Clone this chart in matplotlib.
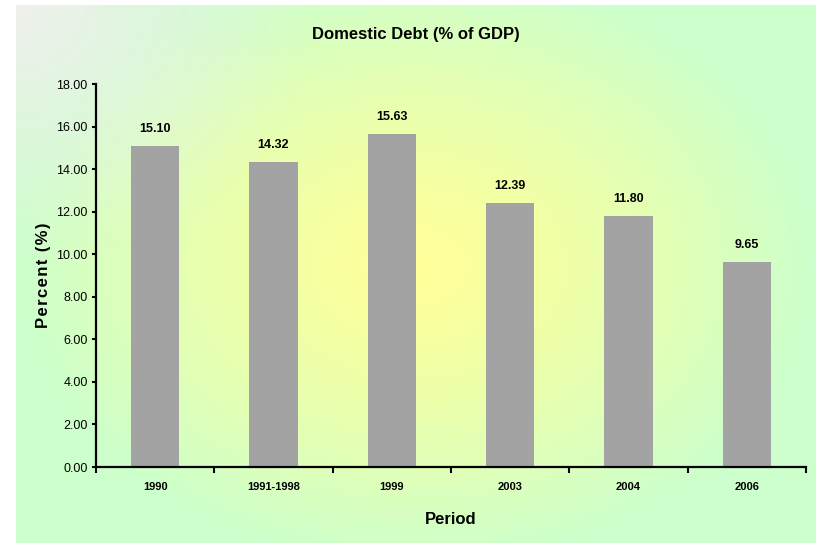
import numpy as np
import matplotlib
matplotlib.use("Agg")
import matplotlib.pyplot as plt

periods = ["1990", "1991-1998", "1999", "2003", "2004", "2006"]
debt_pct = [15.10, 14.32, 15.63, 12.39, 11.80, 9.65]
y_ticks = [0, 2, 4, 6, 8, 10, 12, 14, 16, 18]

plt.rcParams["font.family"] = ["Liberation Sans", "DejaVu Sans"]

W, H = 820, 543
fig = plt.figure(figsize=(W / 100, H / 100), dpi=100)
fig.patch.set_facecolor("white")

# gradient background (yellow centre, green edges, greyish top-left)
bg_left, bg_right, bg_top, bg_bottom = 16, 816, 5, 543
bw, bh = bg_right - bg_left, bg_bottom - bg_top
xx, yy = np.meshgrid(np.arange(bw) + bg_left, np.arange(bh) + bg_top)
yellow = np.array([1.0, 1.0, 0.6])
green = np.array([0.80, 1.0, 0.80])
grey = np.array([0.94, 0.94, 0.93])
d = np.sqrt(((xx - 415) / 400.0) ** 2 + ((yy - 265) / 300.0) ** 2)
t = np.clip(d, 0, 1)[..., None] ** 1.3
img = yellow * (1 - t) + green * t
dg = np.sqrt(((xx - bg_left) / 300.0) ** 2 + ((yy - bg_top) / 260.0) ** 2)
g = np.clip(1 - dg, 0, 1)[..., None] ** 1.1
img = img * (1 - g) + grey * g

bg_ax = fig.add_axes([bg_left / W, 1 - bg_bottom / H, bw / W, bh / H])
bg_ax.imshow(img, aspect="auto", interpolation="bilinear")
bg_ax.axis("off")

ax_l, ax_r, ax_t, ax_b = 96, 806, 84, 467
ax = fig.add_axes([ax_l / W, 1 - ax_b / H, (ax_r - ax_l) / W, (ax_b - ax_t) / H])
ax.patch.set_alpha(0)

x = np.arange(len(periods))
bars = ax.bar(x, debt_pct, width=0.41, color="#a3a3a3", zorder=2)
for xi, v in zip(x, debt_pct):
    ax.annotate(f"{v:.2f}", (xi, v), xytext=(0, 8), textcoords="offset points",
                ha="center", va="bottom", fontsize=9, fontweight="bold")

ax.set_xlim(-0.5, len(periods) - 0.5)
ax.set_ylim(0, 18)
ax.set_yticks(y_ticks)
ax.set_yticklabels([f"{v:.2f}" for v in y_ticks], fontsize=9)
ax.set_xticks(x)
ax.set_xticklabels(periods, fontsize=8, fontweight="bold")
ax.set_xticks(np.arange(len(periods) + 1) - 0.5, minor=True)
ax.tick_params(axis="x", which="major", length=0, pad=11)
ax.tick_params(axis="x", which="minor", length=4, width=1.5, direction="out")
ax.tick_params(axis="y", length=3, width=1.5, direction="out", pad=3)

for side in ["top", "right"]:
    ax.spines[side].set_visible(False)
for side in ["left", "bottom"]:
    ax.spines[side].set_linewidth(1.6)

ylab = "\u200a".join("Percent (%)")
ax.set_ylabel(ylab, fontsize=12, fontweight="bold", labelpad=4)
ax.set_xlabel("Period", fontsize=12, fontweight="bold", labelpad=14)

fig.text(416 / W, 1 - 35 / H, "Domestic Debt (% of GDP)", ha="center", va="center",
         fontsize=12, fontweight="bold")

fig.savefig("out.png", dpi=100)
